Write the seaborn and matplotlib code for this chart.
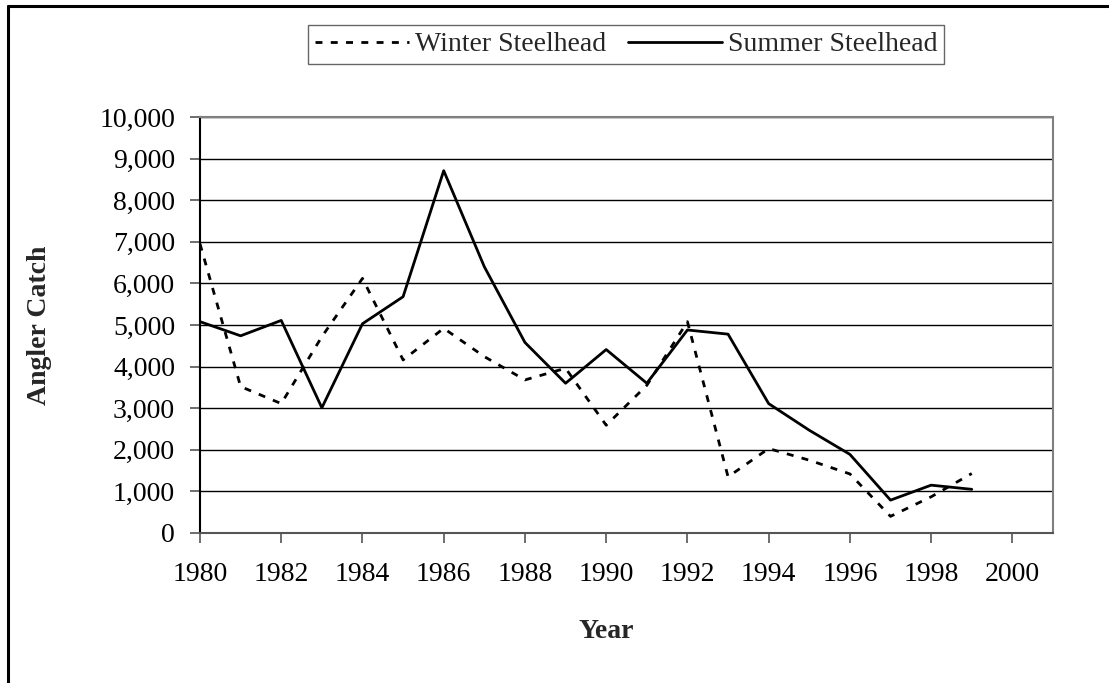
import matplotlib
matplotlib.use("Agg")
import matplotlib.pyplot as plt
from matplotlib.lines import Line2D
from matplotlib.ticker import FuncFormatter
import numpy as np
import pandas as pd
import seaborn as sns

# Data
years = list(range(1980, 2000))
winter = [6950, 3520, 3110, 4720, 6120, 4160, 4920, 4240, 3680, 3960,
          2590, 3550, 5080, 1350, 2030, 1750, 1420, 400, 870, 1430]
summer = [5080, 4740, 5110, 3010, 5030, 5680, 8710, 6400, 4580, 3600,
          4410, 3600, 4880, 4780, 3110, 2470, 1890, 790, 1150, 1050]
series_names = ["Winter Steelhead", "Summer Steelhead"]

df = pd.DataFrame({
    "Year": years * 2,
    "Catch": winter + summer,
    "Series": [series_names[0]] * len(years) + [series_names[1]] * len(years),
})

sns.set_theme(style="white")
plt.rcParams["font.family"] = ["Liberation Serif", "DejaVu Serif"]

fig = plt.figure(figsize=(11.09, 6.83), dpi=100)
ax = fig.add_axes([200 / 1109, 150 / 683, 853 / 1109, 416 / 683])

# 1. Horizontal gridlines behind the data
ax.set_axisbelow(True)
ax.yaxis.grid(True, color="black", linewidth=1.0)
ax.xaxis.grid(False)

# 2. The two series
sns.lineplot(
    data=df, x="Year", y="Catch", hue="Series", style="Series",
    palette={series_names[0]: "black", series_names[1]: "black"},
    dashes={series_names[0]: (2.5, 3), series_names[1]: ""},
    linewidth=2.0, ax=ax, legend=False,
)

# 3. Axes limits, ticks and frame
ax.set_xlim(1980, 2001)
ax.set_ylim(0, 10000)
ax.set_xticks(range(1980, 2001, 2))
ax.set_yticks(range(0, 10001, 1000))
ax.yaxis.set_major_formatter(FuncFormatter(lambda v, p: f"{int(v):,}"))
ax.tick_params(axis="both", labelsize=20, colors="#555555", labelcolor="black",
               direction="out", length=7, width=1.2)
ax.tick_params(axis="x", bottom=True, pad=14)
ax.tick_params(axis="y", left=True, pad=11)
ax.set_xlabel("")
ax.set_ylabel("")
for side in ["top", "right"]:
    ax.spines[side].set_color("#808080")
    ax.spines[side].set_linewidth(1.5)
ax.spines["left"].set_color("black")
ax.spines["left"].set_linewidth(1.5)
ax.spines["bottom"].set_color("#555555")
ax.spines["bottom"].set_linewidth(1.5)

# 4. Axis titles
fig.text(606 / 1109, 1 - 632 / 683, "Year", ha="center", va="center",
         fontsize=20, fontweight="bold")
fig.text(40 / 1109, 1 - 325 / 683, "Angler Catch", ha="center", va="center",
         rotation=90, fontsize=20, fontweight="bold")

# 5. Legend above the plot
handles = [
    Line2D([], [], color="black", linewidth=2.0, dashes=(2.5, 3)),
    Line2D([], [], color="black", linewidth=2.0),
]
leg = fig.legend(
    handles, series_names, loc="upper center", bbox_to_anchor=(626 / 1109, 1 - 25 / 683),
    ncol=2, fontsize=20, frameon=True, fancybox=False, handlelength=3.4,
    handletextpad=0.2, columnspacing=0.8, borderpad=0.25, borderaxespad=0,
)
leg.get_frame().set_edgecolor("#404040")
leg.get_frame().set_linewidth(1.0)

# 6. Outer frame (top and left edges only visible)
fig.add_artist(Line2D([8 / 1109, 1], [1 - 6 / 683, 1 - 6 / 683],
                      color="black", linewidth=2.2, transform=fig.transFigure))
fig.add_artist(Line2D([8 / 1109, 8 / 1109], [0, 1 - 6 / 683],
                      color="black", linewidth=2.2, transform=fig.transFigure))

fig.savefig("out.png", dpi=100)
plt.close(fig)
